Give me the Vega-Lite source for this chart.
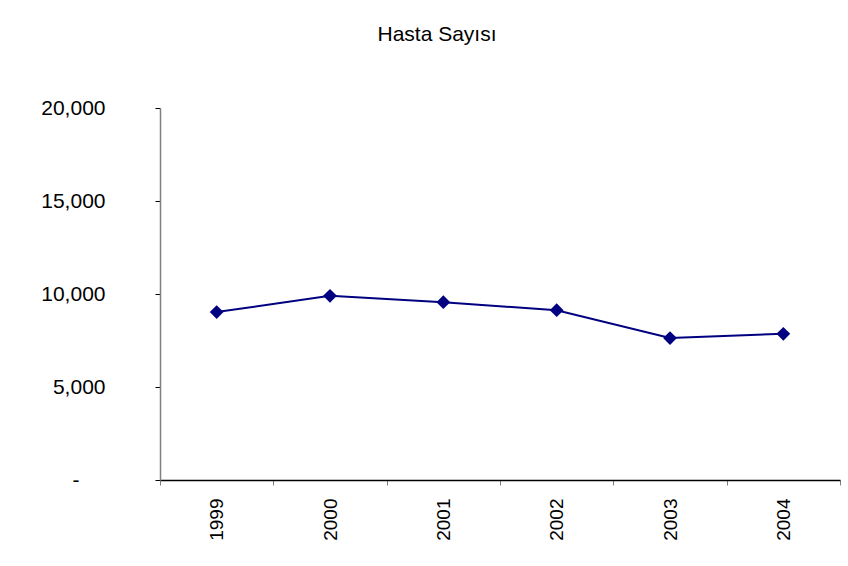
{
  "$schema": "https://vega.github.io/schema/vega-lite/v6.json",
  "width": 680,
  "height": 372,
  "autosize": {"type": "none"},
  "padding": {"left": 160, "top": 108, "right": 8, "bottom": 86},
  "background": "white",
  "title": {
    "text": "Hasta Sayısı",
    "font": "Liberation Sans",
    "fontSize": 21,
    "fontWeight": "normal",
    "color": "black",
    "anchor": "middle",
    "dx": -63,
    "offset": 52
  },
  "data": {
    "values": [
      {"year": "1999", "value": 9030},
      {"year": "2000", "value": 9900},
      {"year": "2001", "value": 9560},
      {"year": "2002", "value": 9130},
      {"year": "2003", "value": 7630},
      {"year": "2004", "value": 7860}
    ]
  },
  "config": {
    "view": {"stroke": null},
    "axis": {"grid": false, "labelFont": "Liberation Sans", "labelColor": "black", "title": null}
  },
  "encoding": {
    "x": {
      "field": "year",
      "type": "ordinal",
      "scale": {"paddingInner": 0, "paddingOuter": 0},
      "axis": {
        "labelFontSize": 19,
        "labelAngle": -90,
        "labelAlign": "right",
        "labelBaseline": "middle",
        "labelPadding": 13,
        "tickBand": "extent",
        "tickSize": 5,
        "domainColor": "black",
        "tickColor": "#808080",
        "domainWidth": 1.5
      }
    },
    "y": {
      "field": "value",
      "type": "quantitative",
      "scale": {"domain": [0, 20000], "nice": false},
      "axis": {
        "labelFontSize": 21,
        "values": [0, 5000, 10000, 15000, 20000],
        "labelExpr": "datum.value == 0 ? '-' : format(datum.value, ',')",
        "labelPadding": {"condition": {"test": "datum.value == 0", "value": 76}, "value": 50},
        "tickSize": 5,
        "tickColor": "black",
        "domainColor": "#808080",
        "domainWidth": 1.5
      }
    }
  },
  "layer": [
    {"mark": {"type": "line", "color": "#000080", "strokeWidth": 2}},
    {"mark": {"type": "point", "shape": "diamond", "filled": true, "color": "#000080", "size": 190, "opacity": 1}}
  ]
}
